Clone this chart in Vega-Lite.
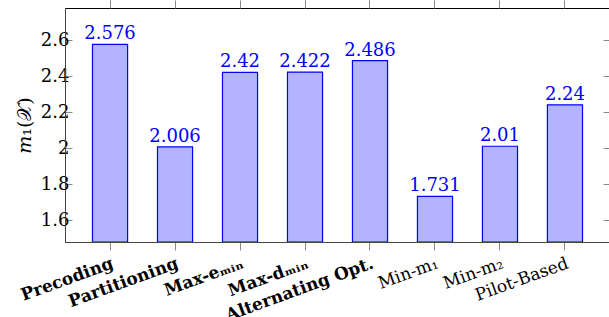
{
  "$schema": "https://vega.github.io/schema/vega-lite/v6.json",
  "autosize": "none",
  "padding": {"left": 65, "top": 8, "right": 0, "bottom": 75},
  "width": 545,
  "height": 234,
  "config": {
    "view": {"stroke": "#000", "strokeWidth": 1},
    "font": "DejaVu Serif",
    "axis": {"domainColor": "#444", "tickColor": "#888", "labelColor": "#000", "titleColor": "#000", "labelFont": "DejaVu Serif", "titleFont": "DejaVu Serif", "grid": false}
  },
  "data": {"values": [
    {"method": "Precoding", "value": 2.576},
    {"method": "Partitioning", "value": 2.006},
    {"method": "Max-eₘᵢₙ", "value": 2.42},
    {"method": "Max-dₘᵢₙ", "value": 2.422},
    {"method": "Alternating Opt.", "value": 2.486},
    {"method": "Min-m₁", "value": 1.731},
    {"method": "Min-m₂", "value": 2.01},
    {"method": "Pilot-Based", "value": 2.24}
  ]},
  "encoding": {
    "x": {"field": "method", "type": "nominal", "sort": null,
      "scale": {"paddingInner": 0.46, "paddingOuter": 0.423}},
    "y": {"field": "value", "type": "quantitative",
      "scale": {"domain": [1.478, 2.778], "nice": false, "zero": false}}
  },
  "layer": [
    {
      "mark": {"type": "bar", "fill": "#b3b3ff", "stroke": "#0000ff", "strokeWidth": 1.2, "clip": true},
      "encoding": {
        "y2": {"datum": 1.478},
        "x": {"field": "method", "type": "nominal", "sort": null,
          "axis": {"orient": "bottom", "title": null, "labelAngle": -20, "labelAlign": "right", "labelBaseline": "top",
            "labelFontSize": 17, "tickSize": 8, "labelPadding": 5,
            "labelFontWeight": {"condition": {"test": "indexof(['Precoding','Partitioning','Max-eₘᵢₙ','Max-dₘᵢₙ','Alternating Opt.'], datum.value) >= 0", "value": "bold"}, "value": "normal"}}},
        "y": {"field": "value", "type": "quantitative",
          "axis": {"orient": "left", "title": "𝑚₁(𝒳)", "titleFontSize": 19, "titleFontWeight": "normal", "titlePadding": 6,
            "values": [1.6, 1.8, 2.0, 2.2, 2.4, 2.6], "format": ".1~f", "labelFontSize": 18, "tickSize": -7, "labelPadding": 3}}
      }
    },
    {
      "mark": {"type": "text", "color": "#0000ff", "fontSize": 18, "baseline": "bottom", "dy": -1, "font": "DejaVu Serif"},
      "encoding": {
        "text": {"field": "value", "type": "quantitative", "format": "~g"},
        "x": {"field": "method", "type": "nominal", "sort": null,
          "axis": {"orient": "top", "title": null, "labels": false, "tickSize": 8, "domain": false}},
        "y": {"field": "value", "type": "quantitative",
          "axis": {"orient": "right", "title": null, "labels": false, "tickSize": -7, "domain": false,
            "values": [1.6, 1.8, 2.0, 2.2, 2.4, 2.6]}}
      }
    }
  ],
  "resolve": {"axis": {"x": "independent", "y": "independent"}}
}
